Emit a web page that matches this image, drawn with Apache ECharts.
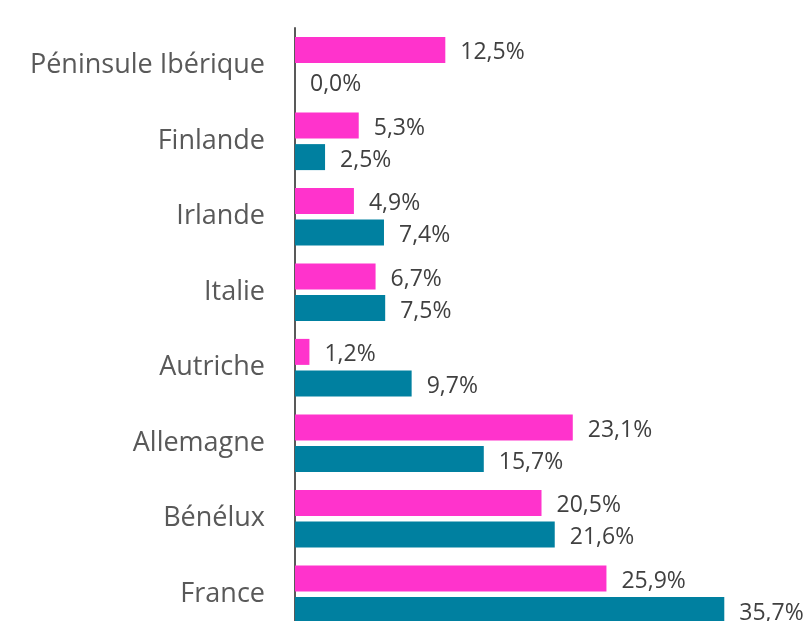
<!DOCTYPE html>
<html>
<head>
<meta charset="utf-8">
<script src="https://cdn.jsdelivr.net/npm/echarts@6/dist/echarts.min.js"></script>
<style>
  html, body { margin: 0; padding: 0; background: #fff; }
  #chart { width: 811px; height: 621px; }
</style>
</head>
<body>
<div id="chart"></div>
<script>
// categories, top to bottom
var categories = ["Péninsule Ibérique", "Finlande", "Irlande", "Italie", "Autriche", "Allemagne", "Bénélux", "France"];
var pinkValues = [12.5, 5.3, 4.9, 6.7, 1.2, 23.1, 20.5, 25.9];
var tealValues = [0.0, 2.5, 7.4, 7.5, 9.7, 15.7, 21.6, 35.7];

var chart = echarts.init(document.getElementById("chart"));

function pct(p) {
  return p.value.toFixed(1).replace(".", ",") + "%";
}

var labelStyle = {
  show: true,
  position: "right",
  distance: 15,
  offset: [0, 3],
  color: "#404040",
  fontSize: 23,
  fontFamily: "Open Sans",
  formatter: pct
};

chart.setOption({
  animation: false,
  grid: { left: 295, top: 28, width: 481, height: 604, outerBoundsMode: "none" },
  xAxis: {
    type: "value",
    min: 0,
    max: 40,
    show: false
  },
  yAxis: {
    type: "category",
    data: categories,
    inverse: true,
    axisLine: { show: true, lineStyle: { color: "#595959", width: 2 } },
    axisTick: { show: false },
    axisLabel: {
      color: "#595959",
      fontSize: 27,
      fontFamily: "Open Sans",
      margin: 30,
      padding: [6, 0, 0, 0]
    }
  },
  series: [
    {
      name: "pink",
      type: "bar",
      data: pinkValues,
      barWidth: 26,
      barGap: "22%",
      itemStyle: { color: "#FF33CC" },
      label: labelStyle
    },
    {
      name: "teal",
      type: "bar",
      data: tealValues,
      barWidth: 26,
      barGap: "22%",
      itemStyle: { color: "#0080A0" },
      label: labelStyle
    }
  ]
});
</script>
</body>
</html>
